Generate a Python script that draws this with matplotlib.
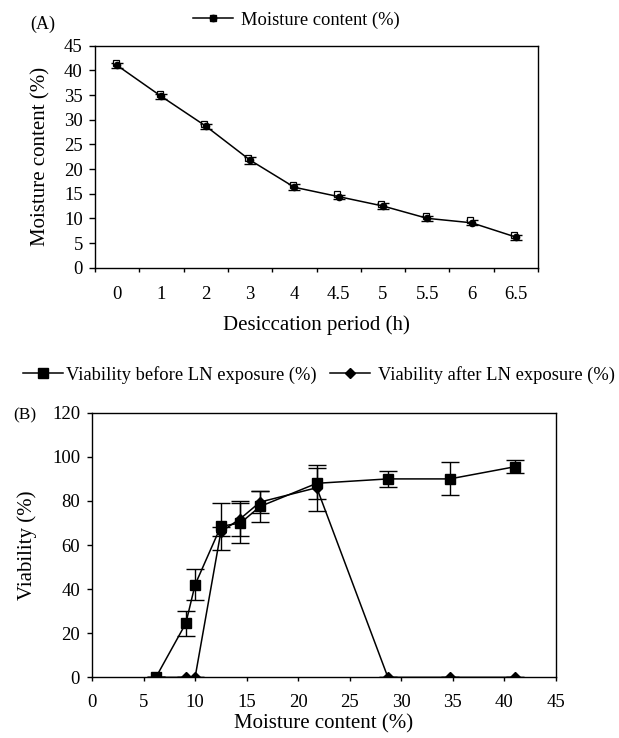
import matplotlib
matplotlib.use("Agg")
import matplotlib.pyplot as plt
import matplotlib.transforms as mtransforms
from matplotlib.lines import Line2D
from matplotlib.legend_handler import HandlerTuple

plt.rcParams['font.family'] = ['Liberation Serif', 'DejaVu Serif']

# panel A data
periods = ["0", "1", "2", "3", "4", "4.5", "5", "5.5", "6", "6.5"]
moisture = [41.0, 34.7, 28.7, 21.8, 16.3, 14.4, 12.5, 10.0, 9.1, 6.2]
moisture_err = [0.5, 0.6, 0.5, 0.7, 0.6, 0.4, 0.6, 0.5, 0.5, 0.5]

# panel B data
mc = [6.2, 9.1, 10.0, 12.5, 14.4, 16.3, 21.8, 28.7, 34.7, 41.0]
before = [0, 24.5, 42, 68.5, 70, 77.5, 88, 90, 90, 95.5]
before_err = [0, 5.8, 7, 10.7, 9, 7, 7, 3.5, 7.5, 3]
after = [0, 0, 0, 66, 72, 79.5, 86, 0, 0, 0]
after_err = [0, 0, 0, 2, 8, 5, 10.5, 0, 0, 0]

TICK_FS = 13.5
LABEL_FS = 15
LEG_FS = 13.3

fig = plt.figure(figsize=(6.19, 7.38), dpi=100)


def center_labels(ax, xlab_top, ylab_right):
    # put axis labels at fixed figure positions, centred on the axes
    pos = ax.get_position()
    ax.xaxis.set_label_coords(0.5, 1 - xlab_top / 738, transform=fig.transFigure)
    ax.xaxis.label.set_x(pos.x0 + pos.width / 2)
    ax.yaxis.set_label_coords(ylab_right / 619, 0.5, transform=fig.transFigure)
    ax.yaxis.label.set_y(pos.y0 + pos.height / 2)


# ---------- (A) ----------
axA = fig.add_axes([0.1535, 0.6373, 0.7157, 0.3008])
xs = list(range(len(periods)))
axA.errorbar(xs, moisture, yerr=moisture_err, color='black', lw=1.1,
             capsize=4, elinewidth=1, marker='o', ms=4.5, mfc='black', mec='black')
# open square sits slightly up-left of each point (as in the original)
off = mtransforms.offset_copy(axA.transData, fig=fig, x=-1.2, y=1.8, units='points')
axA.plot(xs, moisture, ls='none', marker='s', ms=4, mfc='white', mec='black',
         mew=0.9, transform=off)
axA.set_xlim(-0.5, len(periods) - 0.5)
axA.set_ylim(0, 45)
axA.set_yticks(range(0, 46, 5))
axA.set_xticks([i - 0.5 for i in range(len(periods) + 1)])
axA.set_xticklabels([])
axA.set_xticks(xs, minor=True)
axA.set_xticklabels(periods, minor=True)
axA.tick_params(axis='x', which='major', direction='out', length=3, width=1)
axA.tick_params(axis='x', which='minor', length=0, pad=13.5, labelsize=TICK_FS)
axA.tick_params(axis='y', direction='out', length=4.3, width=1, pad=4.5, labelsize=TICK_FS)
axA.set_ylabel("Moisture content (%)", fontsize=LABEL_FS)
axA.set_xlabel("Desiccation period (h)", fontsize=LABEL_FS)
center_labels(axA, 315, 50)
for s in axA.spines.values():
    s.set_linewidth(1)

hA_line = Line2D([], [], color='black', lw=1.1, marker='o', ms=4.5, mfc='black')
hA_sq = Line2D([], [], ls='none', marker='s', ms=4, mfc='white', mec='black')
fig.legend([(hA_sq, hA_line)], ["Moisture content (%)"],
           handler_map={tuple: HandlerTuple(ndivide=1)},
           loc='center left', bbox_to_anchor=(193 / 619, 1 - 20 / 738), frameon=False,
           fontsize=LEG_FS, handlelength=2.15, handletextpad=0.45,
           borderpad=0, borderaxespad=0)
fig.text(30 / 619, 1 - 24 / 738, "(A)", fontsize=13, va='center')

# ---------- (B) ----------
axB = fig.add_axes([0.1486, 0.0822, 0.7496, 0.3585])
axB.errorbar(mc, before, yerr=before_err, color='black', lw=1.1, capsize=6.5,
             elinewidth=1, marker='s', ms=7, mfc='black', mec='black')
axB.errorbar(mc, after, yerr=after_err, color='black', lw=1.1, capsize=6.5,
             elinewidth=1, marker='D', ms=5.5, mfc='black', mec='black')
axB.set_xlim(0, 45)
axB.set_ylim(0, 120)
axB.set_xticks(range(0, 46, 5))
axB.set_yticks(range(0, 121, 20))
axB.tick_params(axis='x', direction='out', length=3, width=1, pad=9, labelsize=TICK_FS)
axB.tick_params(axis='y', direction='out', length=3.6, width=1, pad=5, labelsize=TICK_FS)
axB.set_xlabel("Moisture content (%)", fontsize=LABEL_FS)
axB.set_ylabel("Viability (%)", fontsize=LABEL_FS)
center_labels(axB, 714, 37)
for s in axB.spines.values():
    s.set_linewidth(1)

hB1 = Line2D([], [], color='black', lw=1.1, marker='s', ms=7)
hB2 = Line2D([], [], color='black', lw=1.1, marker='D', ms=5.5)
fig.legend([hB1], ["Viability before LN exposure (%)"],
           loc='center left', bbox_to_anchor=(23 / 619, 1 - 375 / 738),
           frameon=False, fontsize=LEG_FS, handlelength=2.15,
           handletextpad=0.2, borderpad=0, borderaxespad=0)
fig.legend([hB2], ["Viability after LN exposure (%)"],
           loc='center left', bbox_to_anchor=(330 / 619, 1 - 375 / 738),
           frameon=False, fontsize=LEG_FS, handlelength=2.15,
           handletextpad=0.45, borderpad=0, borderaxespad=0)
fig.text(13 / 619, 1 - 415 / 738, "(B)", fontsize=12.5, va='center')

fig.savefig("out.png", dpi=100)
